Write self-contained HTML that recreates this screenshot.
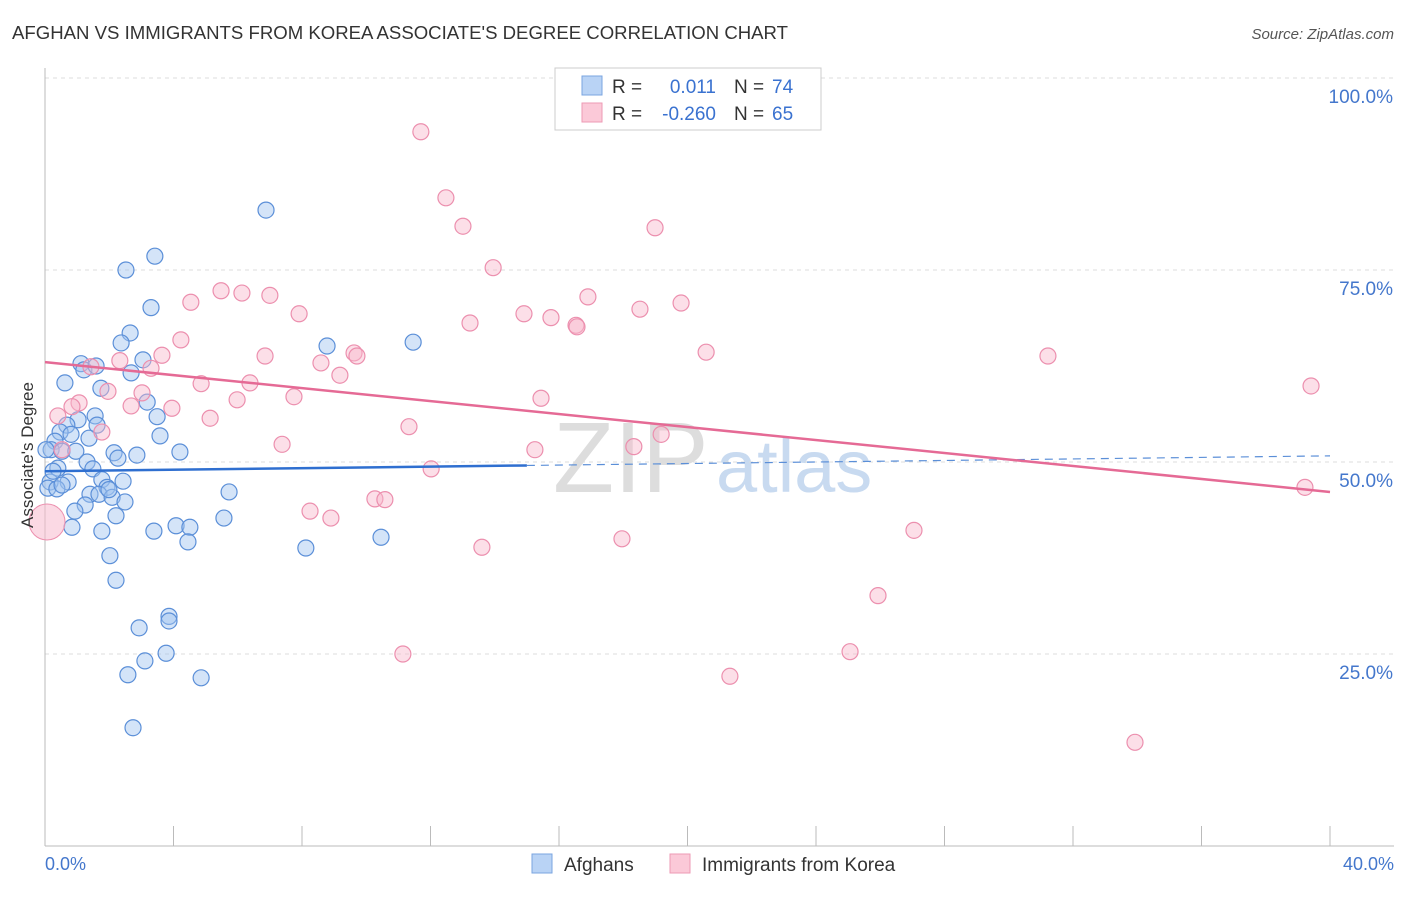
<!DOCTYPE html>
<html><head><meta charset="utf-8"><style>
body{margin:0;background:#fff;font-family:"Liberation Sans",sans-serif}
svg text{font-family:"Liberation Sans",sans-serif}
</style></head><body>
<svg id="c" width="1406" height="892">
<text x="12" y="39" font-size="18" fill="#333" textLength="776" lengthAdjust="spacingAndGlyphs">AFGHAN VS IMMIGRANTS FROM KOREA ASSOCIATE'S DEGREE CORRELATION CHART</text>
<text x="1394" y="39" font-size="15" fill="#555" font-style="italic" text-anchor="end">Source: ZipAtlas.com</text>
<text x="553" y="492" font-size="100" fill="#ddd" font-family="Liberation Serif">ZIP</text>
<text x="716" y="492" font-size="74" fill="#c8daf0">atlas</text>
<g id="grid"></g><g id="pts"></g><g id="lines"></g>
<text transform="translate(33,455) rotate(-90)" font-size="17" fill="#333" text-anchor="middle">Associate's Degree</text>
<text x="45" y="870" font-size="18" fill="#4477cc">0.0%</text>
<text x="1394" y="870" font-size="18" fill="#4477cc" text-anchor="end">40.0%</text>
<g>
<rect x="555" y="68" width="266" height="62" fill="#fff" stroke="#ccc"/>
<rect x="582" y="76" width="20" height="19" fill="#b9d3f5" stroke="#7aa4e0"/>
<rect x="582" y="103" width="20" height="19" fill="#fbc9d8" stroke="#ee9ab4"/>
<text x="612" y="93" font-size="19" fill="#333">R =</text>
<text x="716" y="93" font-size="19" fill="#3a72d0" text-anchor="end">0.011</text>
<text x="734" y="93" font-size="19" fill="#333">N =</text>
<text x="772" y="93" font-size="19" fill="#3a72d0">74</text>
<text x="612" y="120" font-size="19" fill="#333">R =</text>
<text x="716" y="120" font-size="19" fill="#3a72d0" text-anchor="end">-0.260</text>
<text x="734" y="120" font-size="19" fill="#333">N =</text>
<text x="772" y="120" font-size="19" fill="#3a72d0">65</text>
</g>
<g>
<rect x="532" y="854" width="20" height="19" fill="#b9d3f5" stroke="#7aa4e0"/>
<text x="564" y="871" font-size="19" fill="#333">Afghans</text>
<rect x="670" y="854" width="20" height="19" fill="#fbc9d8" stroke="#ee9ab4"/>
<text x="702" y="871" font-size="19" fill="#333">Immigrants from Korea</text>
</g>
</svg>
<script>
const yTicks=[25,50,75,100];
const xTicks=[0,4,8,12,16,20,24,28,32,36,40];
const bluePx=[[266,210],[155,256],[126,270],[151,308],[130,333],[121,343],[327,346],[413,342],[143,360],[81,364],[131,373],[65,383],[101,388],[147,402],[95,416],[78,420],[157,417],[67,425],[97,425],[60,432],[71,434],[89,438],[160,436],[55,441],[51,450],[62,451],[76,451],[114,453],[137,455],[180,452],[118,458],[87,462],[58,468],[93,469],[102,480],[123,481],[68,482],[50,482],[48,488],[107,487],[90,494],[99,494],[112,497],[125,502],[229,492],[85,505],[75,511],[116,516],[224,518],[154,531],[176,526],[190,527],[72,527],[102,531],[188,542],[306,548],[381,537],[110,556],[116,580],[169,616],[169,621],[139,628],[166,653],[145,661],[128,675],[201,678],[133,728],[109,490],[57,489],[46,450],[84,370],[96,366],[62,485],[53,471]];
const pinkPx=[[421,132],[446,198],[463,226],[655,228],[493,268],[588,297],[221,291],[242,293],[270,295],[191,302],[299,314],[470,323],[524,314],[551,318],[576,325],[577,327],[640,309],[681,303],[181,340],[354,353],[357,356],[162,355],[265,356],[321,363],[120,361],[91,367],[151,368],[340,375],[706,352],[1048,356],[1311,386],[201,384],[250,383],[108,391],[142,393],[541,398],[294,397],[79,403],[172,408],[131,406],[72,407],[58,416],[210,418],[237,400],[409,427],[102,432],[661,434],[282,444],[535,450],[634,447],[62,450],[431,469],[375,499],[385,500],[310,511],[331,518],[914,530],[482,547],[622,539],[878,596],[403,654],[850,652],[730,676],[1135,742],[1305,487]];
const blueX=bluePx.map(p=>+((p[0]-45)/1285*40).toFixed(2));
const blueY=bluePx.map(p=>+((846-p[1])/768*100).toFixed(1));
const pinkX=pinkPx.map(p=>+((p[0]-45)/1285*40).toFixed(2));
const pinkY=pinkPx.map(p=>+((846-p[1])/768*100).toFixed(1));
const blueTrend=[48.8,50.8];
const pinkTrend=[63,46.1];
const X=v=>45+v/40*1285, Y=v=>846-v/100*768;
const NS="http://www.w3.org/2000/svg";
function mk(t,a,p){const e=document.createElementNS(NS,t);for(const k in a)e.setAttribute(k,a[k]);p.appendChild(e);return e;}
const g=document.getElementById('grid');
yTicks.forEach(v=>{
 const l=mk('line',{x1:45,x2:1394,y1:Y(v),y2:Y(v),stroke:'#ddd','stroke-dasharray':'4,4'},g);
 
 
 const t=mk('text',{x:1393,y:Y(v)+25,'font-size':19,fill:'#4477cc','text-anchor':'end'},g);
 t.textContent=v.toFixed(1)+'%';
 
 
});
mk('line',{x1:45,x2:45,y1:68,y2:846,stroke:'#bbb'},g);
mk('line',{x1:45,x2:1394,y1:846,y2:846,stroke:'#bbb'},g);
xTicks.forEach(v=>{const l=mk('line',{x1:X(v),x2:X(v),y1:826,y2:846,stroke:'#bbb'},g);
 
 });
const P=document.getElementById('pts');
blueX.forEach((x,i)=>{const c=mk('circle',{cx:X(x),cy:Y(blueY[i]),r:8,fill:'rgba(160,195,240,0.45)',stroke:'#5b8fd8','stroke-width':1.2},P);
 
 });
pinkX.forEach((x,i)=>{const c=mk('circle',{cx:X(x),cy:Y(pinkY[i]),r:8,fill:'rgba(248,185,205,0.45)',stroke:'#ec8fae','stroke-width':1.2},P);
 
 });
const big=mk('circle',{cx:47,cy:522,r:18,fill:'rgba(248,185,205,0.55)',stroke:'#ec8fae'},P);


const L=document.getElementById('lines');
const yb=x=>blueTrend[0]+(blueTrend[1]-blueTrend[0])*x/40;
let l1=mk('line',{x1:X(0),y1:Y(yb(0)),x2:X(15),y2:Y(yb(15)),stroke:'#2f6fd0','stroke-width':2.5},L);


let l2=mk('line',{x1:X(15),y1:Y(yb(15)),x2:X(40),y2:Y(yb(40)),stroke:'#5b8fd8','stroke-width':1.2,'stroke-dasharray':'8,6'},L);


let l3=mk('line',{x1:X(0),y1:Y(pinkTrend[0]),x2:X(40),y2:Y(pinkTrend[1]),stroke:'#e56a95','stroke-width':2.5},L);


</script>
</body></html>
